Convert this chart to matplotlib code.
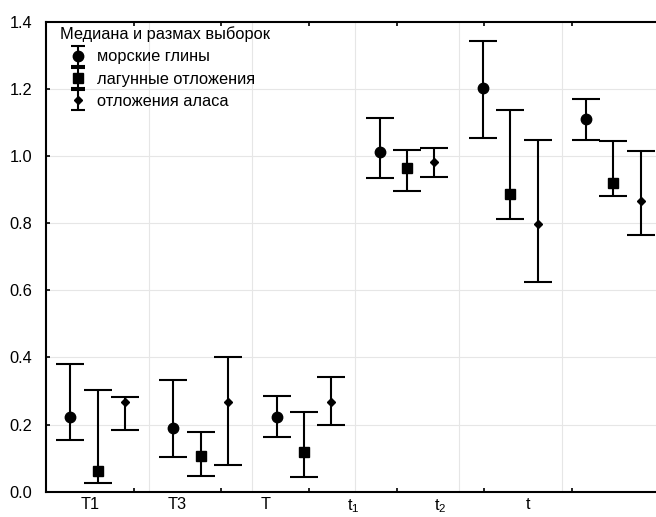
import numpy as np
import matplotlib
matplotlib.use('Agg')
import matplotlib.pyplot as plt
from matplotlib.container import ErrorbarContainer
from matplotlib.legend_handler import HandlerErrorbar

plt.rcParams['font.family'] = ['Liberation Sans', 'DejaVu Sans']
plt.rcParams['font.size'] = 11.8

categories = ['T1', 'T3', 'T', r'$\mathregular{t_1}$', r'$\mathregular{t_2}$', 't']
series_names = ['морские глины', 'лагунные отложения', 'отложения аласа']

# median, max, min for each group
marine_med = [0.223, 0.189, 0.223, 1.011, 1.202, 1.111]
marine_hi = [0.381, 0.334, 0.286, 1.113, 1.344, 1.169]
marine_lo = [0.153, 0.102, 0.162, 0.935, 1.054, 1.049]

lagoon_med = [0.062, 0.107, 0.117, 0.965, 0.886, 0.919]
lagoon_hi = [0.304, 0.177, 0.238, 1.018, 1.136, 1.044]
lagoon_lo = [0.026, 0.047, 0.045, 0.896, 0.812, 0.880]

alas_med = [0.268, 0.267, 0.267, 0.983, 0.797, 0.867]
alas_hi = [0.281, 0.401, 0.342, 1.023, 1.049, 1.015]
alas_lo = [0.185, 0.078, 0.199, 0.938, 0.625, 0.766]

fig = plt.figure(figsize=(6.56, 5.17), dpi=100)
ax = fig.add_axes([0.0701, 0.049, 0.9436, 0.909])

x = np.arange(len(categories))
offsets = [-0.265, 0.0, 0.265]
markers = ['o', 's', 'D']
msizes = [7.5, 7, 4.5]
series = [(marine_med, marine_hi, marine_lo),
          (lagoon_med, lagoon_hi, lagoon_lo),
          (alas_med, alas_hi, alas_lo)]

handles = []
for (med, hi, lo), off, m, ms, name in zip(series, offsets, markers, msizes, series_names):
    med = np.array(med)
    yerr = [med - np.array(lo), np.array(hi) - med]
    ax.errorbar(x + off, med, yerr=yerr, fmt=m, color='black', ms=ms,
                ecolor='black', elinewidth=1.5, capsize=10, capthick=1.5,
                zorder=3)
    # legend proxy with smaller caps, placed outside the visible range
    h = ax.errorbar([-10], [0.5], yerr=[[0.1], [0.1]], fmt=m, color='black', ms=ms,
                    ecolor='black', elinewidth=1.5, capsize=5, capthick=1.5)
    handles.append(h)

ax.set_xlim(-0.5, 5.5)
ax.set_ylim(0, 1.4)
ax.set_yticks(np.arange(0, 1.41, 0.2))
ax.set_yticklabels(['%.1f' % v for v in np.arange(0, 1.41, 0.2)])

for v in np.arange(0.2, 1.3, 0.2):
    ax.axhline(v, color='#e6e6e6', lw=0.8, zorder=0)
for v in np.arange(0.5, 5, 1):
    ax.axvline(v, color='#e6e6e6', lw=0.8, zorder=0)

step = 0.85
ax.set_xticks([-0.5 + k * step for k in range(1, 7)])
ax.set_xticklabels([])
ax.set_xticks([-0.5 + (k + 0.5) * step for k in range(len(categories))], minor=True)
ax.set_xticklabels(categories, minor=True)
ax.tick_params(axis='x', which='major', direction='in', length=3, width=1.2, top=True)
ax.tick_params(axis='x', which='minor', length=0, pad=4)
ax.tick_params(axis='y', direction='in', length=3, width=1.2, pad=10)

for s in ['left', 'bottom', 'top']:
    ax.spines[s].set_linewidth(1.5)
ax.spines['right'].set_visible(False)

leg = ax.legend(handles=handles, labels=series_names, loc='upper left',
                bbox_to_anchor=(0.0068, 1.0105),
                title='Медиана и размах выборок', frameon=False,
                alignment='left', handlelength=2.2, handletextpad=0.05,
                labelspacing=0.43, borderpad=0.6, borderaxespad=0,
                handler_map={ErrorbarContainer: HandlerErrorbar(yerr_size=0.61)})

fig.savefig('out.png', dpi=100)
